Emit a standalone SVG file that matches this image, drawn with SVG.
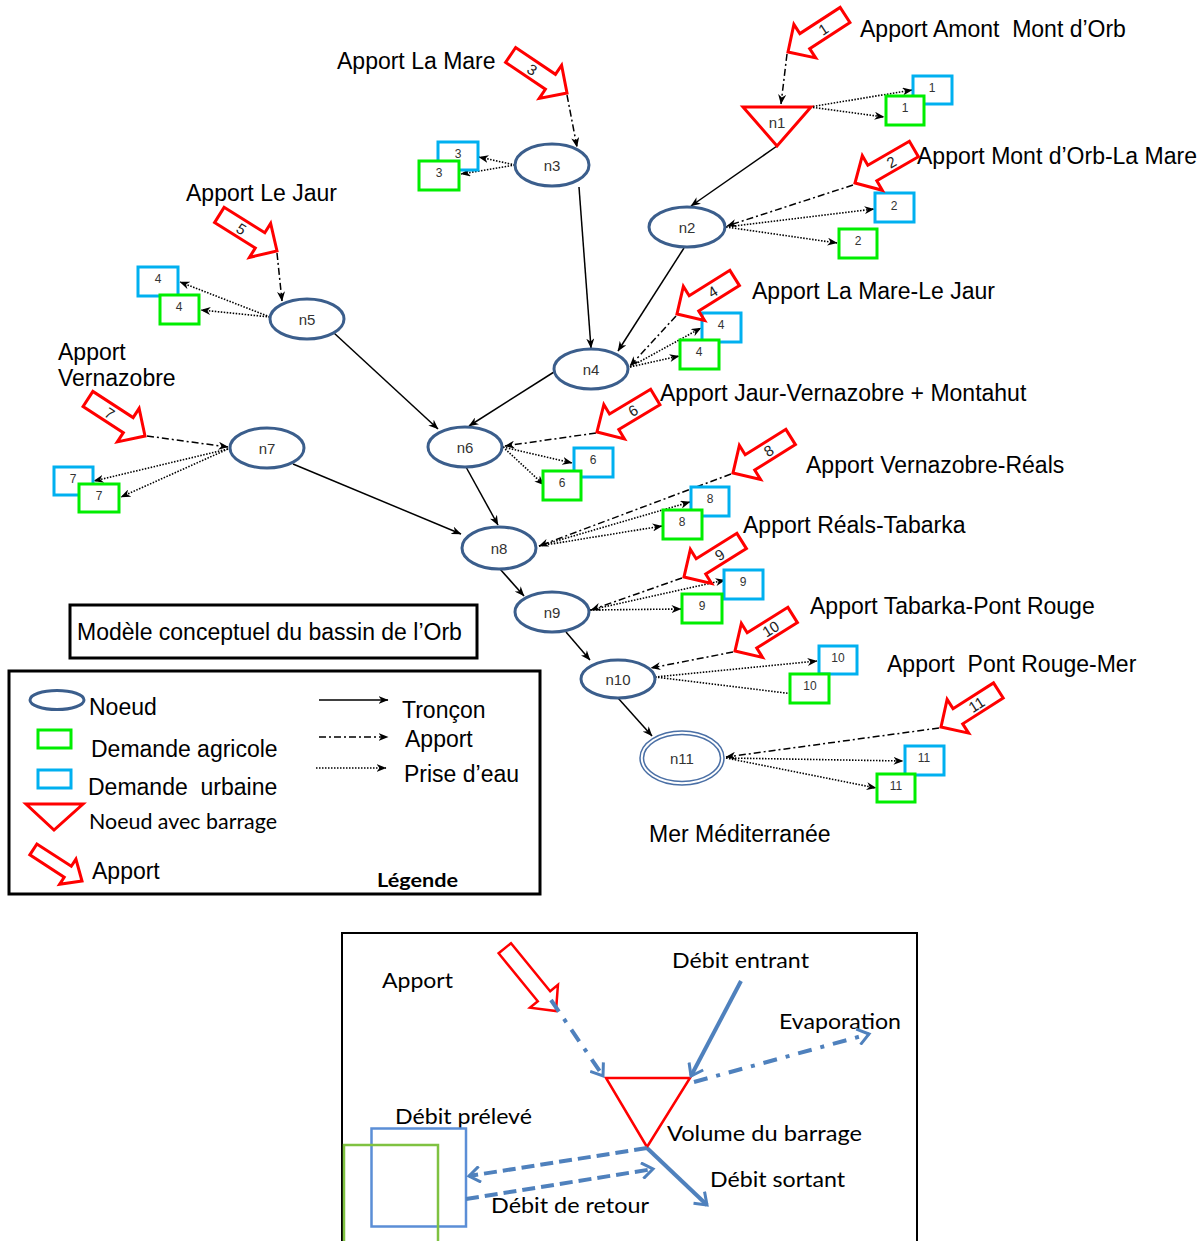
<svg xmlns="http://www.w3.org/2000/svg" xmlns:xlink="http://www.w3.org/1999/xlink" width="1201" height="1241" viewBox="0 0 1201 1241">
<style>
.t{font-family:"Liberation Sans",Arial,sans-serif;font-size:23px;fill:#000}
.c{font-family:Lato,"Liberation Sans",sans-serif;fill:#000}
.node ellipse{fill:#fff;stroke:#3b5e8c;stroke-width:3}
.nl{font-family:"Liberation Sans",Arial,sans-serif;font-size:15px;fill:#333;text-anchor:middle}
.ub{fill:#fff;stroke:#00b0f0;stroke-width:3}
.ag{fill:#fff;stroke:#00ee00;stroke-width:3}
.bl{font-family:"Liberation Sans",Arial,sans-serif;font-size:12px;fill:#333;text-anchor:middle}
.ap{fill:#fff;stroke:#ff0000;stroke-width:3}
.an{font-family:"Liberation Sans",Arial,sans-serif;font-size:15px;fill:#222;text-anchor:middle}
.tr{stroke:#000;stroke-width:1.5;fill:none;marker-end:url(#ah)}
.dd{stroke:#000;stroke-width:1.5;fill:none;stroke-dasharray:7 3 2 3;marker-end:url(#ah)}
.dt{stroke:#000;stroke-width:1.6;fill:none;stroke-dasharray:1.5 1.5;marker-end:url(#ah)}
.bs{stroke:#4f81bd;stroke-width:4;fill:none;marker-end:url(#bh)}
.bdd{stroke:#4f81bd;stroke-width:4;fill:none;stroke-dasharray:14 9 4 9;marker-end:url(#bh)}
.bd{stroke:#4f81bd;stroke-width:4;fill:none;stroke-dasharray:13 6;marker-end:url(#bh)}
</style>
<defs>
<marker id="ah" markerWidth="10" markerHeight="8" refX="9.5" refY="4" orient="auto" markerUnits="userSpaceOnUse"><path d="M0,0 L10,4 L0,8 L3,4 Z" fill="#000"/></marker>
<marker id="bh" markerWidth="16" markerHeight="18" refX="13" refY="9" orient="auto" markerUnits="userSpaceOnUse"><path d="M2,1 L13,9 L2,17" fill="none" stroke="#4f81bd" stroke-width="3"/></marker>
<path id="apA" d="M0,0 L-20,-20 L-20,-9 L-68,-9 L-68,9 L-20,9 L-20,20 Z"/>
</defs>
<rect width="1201" height="1241" fill="#fff"/>

<g id="labels">
<text class="t" x="860" y="37">Apport Amont&#160; Mont d’Orb</text>
<text class="t" x="337" y="69">Apport La Mare</text>
<text class="t" x="917" y="164">Apport Mont d’Orb-La Mare</text>
<text class="t" x="186" y="201">Apport Le Jaur</text>
<text class="t" x="752" y="299">Apport La Mare-Le Jaur</text>
<text class="t" x="58" y="360">Apport</text>
<text class="t" x="58" y="386">Vernazobre</text>
<text class="t" x="660" y="401">Apport Jaur-Vernazobre + Montahut</text>
<text class="t" x="806" y="473">Apport Vernazobre-Réals</text>
<text class="t" x="743" y="533">Apport Réals-Tabarka</text>
<text class="t" x="810" y="614">Apport Tabarka-Pont Rouge</text>
<text class="t" x="887" y="672">Apport&#160; Pont Rouge-Mer</text>
<text class="t" x="649" y="842">Mer Méditerranée</text>
</g>

<g id="connectors">
<path class="tr" d="M777,146 L691,206"/>
<path class="tr" d="M579,187 L591,348"/>
<path class="tr" d="M684,248 L618,351"/>
<path class="tr" d="M334,333 L438,429"/>
<path class="tr" d="M554,372 L469,426"/>
<path class="tr" d="M293,464 L461,534"/>
<path class="tr" d="M466,467 L498,525"/>
<path class="tr" d="M500,569 L524,596"/>
<path class="tr" d="M566,632 L590,660"/>
<path class="tr" d="M618,698 L652,736"/>

<path class="dd" d="M787,54 L781,104"/>
<path class="dd" d="M853,185 L727,226"/>
<path class="dd" d="M567,95 L577,147"/>
<path class="dd" d="M676,316 L630,366"/>
<path class="dd" d="M277,253 L282,301"/>
<path class="dd" d="M596,433 L505,446"/>
<path class="dd" d="M147,436 L228,447"/>
<path class="dd" d="M731,474 L539,546"/>
<path class="dd" d="M682,578 L591,610"/>
<path class="dd" d="M733,652 L651,668"/>
<path class="dd" d="M939,728 L726,757"/>

<path class="dt" d="M810,107 L912,90"/>
<path class="dt" d="M810,107 L884,117"/>
<path class="dt" d="M726,227 L874,209"/>
<path class="dt" d="M726,227 L837,243"/>
<path class="dt" d="M515,165 L479,157"/>
<path class="dt" d="M515,165 L461,174"/>
<path class="dt" d="M270,317 L180,282"/>
<path class="dt" d="M270,317 L201,310"/>
<path class="dt" d="M630,367 L701,328"/>
<path class="dt" d="M630,367 L679,356"/>
<path class="dt" d="M503,447 L572,463"/>
<path class="dt" d="M503,447 L544,485"/>
<path class="dt" d="M228,449 L94,481"/>
<path class="dt" d="M228,449 L121,497"/>
<path class="dt" d="M539,546 L690,502"/>
<path class="dt" d="M539,546 L662,526"/>
<path class="dt" d="M590,610 L725,580"/>
<path class="dt" d="M590,610 L681,609"/>
<path class="dt" d="M655,677 L817,661"/>
<path class="dt" d="M655,677 L802,695"/>
<path class="dt" d="M726,758 L903,761"/>
<path class="dt" d="M726,758 L876,788"/>
</g>

<g id="n1"><polygon points="743,107 811,107 777,146" fill="#fff" stroke="#ff0000" stroke-width="3"/><text class="nl" x="777" y="128">n1</text></g>
<g id="n2" class="node"><ellipse cx="687" cy="227" rx="38" ry="20"/><text class="nl" x="687" y="233">n2</text></g>
<g id="n3" class="node"><ellipse cx="552" cy="165" rx="37" ry="21"/><text class="nl" x="552" y="171">n3</text></g>
<g id="n4" class="node"><ellipse cx="591" cy="369" rx="37" ry="20"/><text class="nl" x="591" y="375">n4</text></g>
<g id="n5" class="node"><ellipse cx="307" cy="319" rx="37" ry="20"/><text class="nl" x="307" y="325">n5</text></g>
<g id="n6" class="node"><ellipse cx="465" cy="447" rx="37" ry="20"/><text class="nl" x="465" y="453">n6</text></g>
<g id="n7" class="node"><ellipse cx="267" cy="448" rx="37" ry="20"/><text class="nl" x="267" y="454">n7</text></g>
<g id="n8" class="node"><ellipse cx="499" cy="548" rx="37" ry="21"/><text class="nl" x="499" y="554">n8</text></g>
<g id="n9" class="node"><ellipse cx="552" cy="612" rx="37" ry="20"/><text class="nl" x="552" y="618">n9</text></g>
<g id="n10" class="node"><ellipse cx="618" cy="679" rx="37" ry="19"/><text class="nl" x="618" y="685">n10</text></g>
<g id="n11"><ellipse cx="682" cy="758" rx="42" ry="27" fill="#fff" stroke="#4a6fa5" stroke-width="1.5"/><ellipse cx="682" cy="758" rx="38.5" ry="23.5" fill="none" stroke="#4a6fa5" stroke-width="1.5"/><text class="nl" x="682" y="764">n11</text></g>

<g id="d1"><rect class="ub" x="913" y="76" width="39" height="28"/><text class="bl" x="932" y="92">1</text><rect class="ag" x="886" y="96" width="38" height="29"/><text class="bl" x="905" y="112">1</text></g>
<g id="d2"><rect class="ub" x="875" y="193" width="39" height="29"/><text class="bl" x="894" y="210">2</text><rect class="ag" x="839" y="229" width="38" height="29"/><text class="bl" x="858" y="245">2</text></g>
<g id="d3"><rect class="ub" x="438" y="142" width="40" height="28"/><text class="bl" x="458" y="158">3</text><rect class="ag" x="419" y="161" width="40" height="29"/><text class="bl" x="439" y="177">3</text></g>
<g id="d4a"><rect class="ub" x="138" y="267" width="40" height="29"/><text class="bl" x="158" y="283">4</text><rect class="ag" x="160" y="295" width="39" height="29"/><text class="bl" x="179" y="311">4</text></g>
<g id="d4b"><rect class="ub" x="702" y="313" width="39" height="29"/><text class="bl" x="721" y="329">4</text><rect class="ag" x="680" y="340" width="39" height="29"/><text class="bl" x="699" y="356">4</text></g>
<g id="d6"><rect class="ub" x="574" y="448" width="39" height="29"/><text class="bl" x="593" y="464">6</text><rect class="ag" x="543" y="471" width="38" height="29"/><text class="bl" x="562" y="487">6</text></g>
<g id="d7"><rect class="ub" x="54" y="467" width="39" height="28"/><text class="bl" x="73" y="483">7</text><rect class="ag" x="79" y="484" width="40" height="28"/><text class="bl" x="99" y="500">7</text></g>
<g id="d8"><rect class="ub" x="691" y="487" width="38" height="29"/><text class="bl" x="710" y="503">8</text><rect class="ag" x="663" y="510" width="39" height="29"/><text class="bl" x="682" y="526">8</text></g>
<g id="d9"><rect class="ub" x="724" y="570" width="39" height="29"/><text class="bl" x="743" y="586">9</text><rect class="ag" x="682" y="594" width="40" height="29"/><text class="bl" x="702" y="610">9</text></g>
<g id="d10"><rect class="ub" x="819" y="646" width="38" height="28"/><text class="bl" x="838" y="662">10</text><rect class="ag" x="790" y="674" width="39" height="29"/><text class="bl" x="810" y="690">10</text></g>
<g id="d11"><rect class="ub" x="905" y="746" width="39" height="29"/><text class="bl" x="924" y="762">11</text><rect class="ag" x="877" y="774" width="38" height="28"/><text class="bl" x="896" y="790">11</text></g>

<g id="a1" transform="translate(788,52) rotate(147)"><use href="#apA" class="ap"/><text class="an" transform="translate(-42,0) rotate(180)" y="5.5">1</text></g>
<g id="a2" transform="translate(855,183) rotate(150)"><use href="#apA" class="ap"/><text class="an" transform="translate(-42,0) rotate(180)" y="5.5">2</text></g>
<g id="a3" transform="translate(567,93) rotate(34)"><use href="#apA" class="ap"/><text class="an" transform="translate(-42,0)" y="5.5">3</text></g>
<g id="a4" transform="translate(677,314) rotate(148)"><use href="#apA" class="ap"/><text class="an" transform="translate(-42,0) rotate(180)" y="5.5">4</text></g>
<g id="a5" transform="translate(277,251) rotate(32)"><use href="#apA" class="ap"/><text class="an" transform="translate(-42,0)" y="5.5">5</text></g>
<g id="a6" transform="translate(597,432) rotate(149)"><use href="#apA" class="ap"/><text class="an" transform="translate(-42,0) rotate(180)" y="5.5">6</text></g>
<g id="a7" transform="translate(145,436) rotate(33)"><use href="#apA" class="ap"/><text class="an" transform="translate(-42,0)" y="5.5">7</text></g>
<g id="a8" transform="translate(733,473) rotate(148)"><use href="#apA" class="ap"/><text class="an" transform="translate(-42,0) rotate(180)" y="5.5">8</text></g>
<g id="a9" transform="translate(684,577) rotate(148)"><use href="#apA" class="ap"/><text class="an" transform="translate(-42,0) rotate(180)" y="5.5">9</text></g>
<g id="a10" transform="translate(735,651) rotate(148)"><use href="#apA" class="ap"/><text class="an" transform="translate(-42,0) rotate(180)" y="5.5">10</text></g>
<g id="a11" transform="translate(941,727) rotate(147.5)"><use href="#apA" class="ap"/><text class="an" transform="translate(-42,0) rotate(180)" y="5.5">11</text></g>

<g id="title"><rect x="70" y="605" width="407" height="53" fill="#fff" stroke="#000" stroke-width="3"/><text class="t" x="77" y="640">Modèle conceptuel du bassin de l’Orb</text></g>

<g id="legend">
<rect x="9" y="671" width="531" height="223" fill="#fff" stroke="#000" stroke-width="3"/>
<ellipse cx="57" cy="700" rx="27" ry="9.5" fill="#fff" stroke="#3b5e8c" stroke-width="3"/>
<text class="t" x="89" y="715">Noeud</text>
<rect x="38" y="730" width="33" height="18" fill="#fff" stroke="#00ee00" stroke-width="3"/>
<text class="t" x="91" y="757">Demande agricole</text>
<rect x="38" y="770" width="33" height="18" fill="#fff" stroke="#00b0f0" stroke-width="3"/>
<text class="t" x="88" y="795">Demande&#160; urbaine</text>
<polygon points="26,804 83,804 54,830" fill="#fff" stroke="#ff0000" stroke-width="3"/>
<text class="c" x="89" y="829" font-size="21" textLength="188" lengthAdjust="spacingAndGlyphs">Noeud avec barrage</text>
<path transform="translate(82,881) rotate(33)" d="M0,0 L-17,-15 L-17,-6.5 L-58,-6.5 L-58,6.5 L-17,6.5 L-17,15 Z" fill="#fff" stroke="#ff0000" stroke-width="3"/>
<text class="t" x="92" y="879">Apport</text>
<path class="tr" d="M319,700 L388,700"/>
<text class="t" x="402" y="718">Tronçon</text>
<path class="dd" d="M319,737 L388,737"/>
<text class="t" x="405" y="747" font-size="22">Apport</text>
<path class="dt" d="M316,768 L386,768"/>
<text class="t" x="404" y="782">Prise d’eau</text>
<text class="c" x="377" y="887" font-size="19" font-weight="bold" textLength="81" lengthAdjust="spacingAndGlyphs">Légende</text>
</g>

<g id="schema">
<rect x="342" y="933" width="575" height="330" fill="none" stroke="#000" stroke-width="2"/>
<text class="c" x="382" y="988" font-size="22" textLength="71" lengthAdjust="spacingAndGlyphs">Apport</text>
<path transform="translate(556,1011) rotate(50.8)" d="M0,0 L-19,-18 L-19,-8 L-81,-8 L-81,8 L-19,8 L-19,18 Z" fill="#fff" stroke="#ff0000" stroke-width="2.5"/>
<text class="c" x="672" y="968" font-size="22" textLength="137" lengthAdjust="spacingAndGlyphs">Débit entrant</text>
<text class="c" x="779" y="1029" font-size="22" textLength="122" lengthAdjust="spacingAndGlyphs">Evaporation</text>
<polygon points="606,1078 690,1078 647,1147" fill="none" stroke="#ff0000" stroke-width="2.5"/>
<text class="c" x="667" y="1141" font-size="22" textLength="195" lengthAdjust="spacingAndGlyphs">Volume du barrage</text>
<text class="c" x="395" y="1124" font-size="22" textLength="137" lengthAdjust="spacingAndGlyphs">Débit prélevé</text>
<rect x="371.5" y="1128.5" width="94.5" height="98" fill="none" stroke="#5b8ed6" stroke-width="2.5"/>
<rect x="344" y="1145" width="94" height="120" fill="none" stroke="#7fc241" stroke-width="2.5"/>
<path class="bdd" d="M551,1000 L603,1076"/>
<path class="bs" d="M741,981 L691,1076"/>
<path class="bdd" d="M694,1082 L869,1034"/>
<path class="bd" d="M647,1148 L469,1176"/>
<path class="bd" d="M466,1199 L653,1169"/>
<path class="bs" d="M647,1148 L707,1205"/>
<text class="c" x="710" y="1187" font-size="22" textLength="135" lengthAdjust="spacingAndGlyphs">Débit sortant</text>
<text class="c" x="491" y="1213" font-size="22" textLength="158" lengthAdjust="spacingAndGlyphs">Débit de retour</text>
</g>
</svg>
